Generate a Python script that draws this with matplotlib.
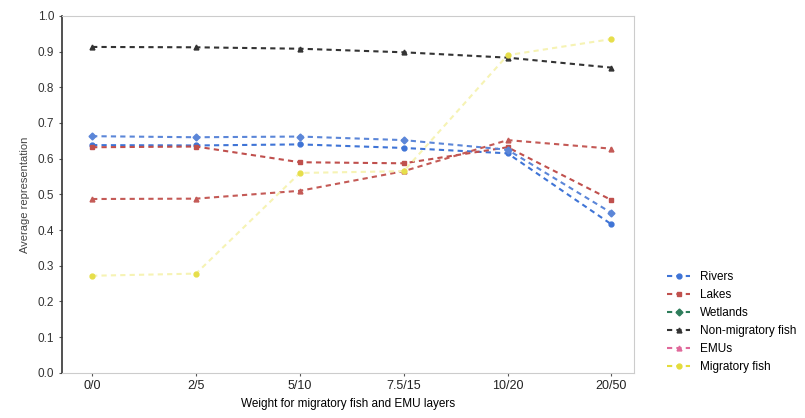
# average representation vs weight for migratory fish / EMU layers

import matplotlib.pyplot as plt
import numpy as np

plt.rcParams["font.family"] = ["Liberation Sans", "DejaVu Sans"]

weights = ["0/0", "2/5", "5/10", "7.5/15", "10/20", "20/50"]

rivers = [0.638, 0.637, 0.640, 0.630, 0.615, 0.416]
lakes = [0.632, 0.634, 0.590, 0.587, 0.632, 0.484]
wetlands = [0.663, 0.660, 0.662, 0.652, 0.625, 0.448]
non_migratory = [0.913, 0.912, 0.908, 0.898, 0.883, 0.855]
emus = [0.487, 0.488, 0.510, 0.565, 0.652, 0.628]
migratory = [0.272, 0.278, 0.560, 0.565, 0.890, 0.935]

# (label, values, line colour, legend colour, marker)
series = [
    ("Rivers", rivers, "#3f74d6", "#3f74d6", "o"),
    ("Lakes", lakes, "#c0504d", "#c0504d", "s"),
    ("Wetlands", wetlands, "#5b86d8", "#2e7d5b", "D"),
    ("Non-migratory fish", non_migratory, "#333333", "#333333", "^"),
    ("EMUs", emus, "#c45a56", "#e0689a", "^"),
    ("Migratory fish", migratory, "#f6f3b4", "#e4dc3c", "o"),
]

x = np.arange(len(weights))

fig = plt.figure(figsize=(8.05, 4.18), dpi=100)
ax = fig.add_axes([0.077, 0.108, 0.711, 0.854])

for label, vals, col, _, mk in series:
    mcol = "#e6de4a" if label == "Migratory fish" else col
    ax.plot(x, vals, linestyle="--", color=col, linewidth=1.5, marker=mk,
            markersize=3.5, markerfacecolor=mcol, markeredgecolor=mcol,
            label=label, dashes=(2.5, 2))

ax.set_xlim(-0.29, 5.22)
ax.set_ylim(0, 1.0)
ax.set_xticks(x)
ax.set_xticklabels(weights, fontsize=9, color="#222222")
ax.set_yticks(np.arange(0, 1.01, 0.1))
ax.set_yticklabels([f"{v:.1f}" for v in np.arange(0, 1.01, 0.1)],
                   fontsize=8.5, color="#333333")
ax.tick_params(axis="both", length=2, color="#555555")
ax.set_xlabel("Weight for migratory fish and EMU layers", fontsize=8.5, labelpad=4)
ax.set_ylabel("Average representation", fontsize=8, color="#444444", labelpad=6)

ax.spines["left"].set_color("#333333")
ax.spines["left"].set_linewidth(1.2)
for side in ["top", "right", "bottom"]:
    ax.spines[side].set_color("#cccccc")
    ax.spines[side].set_linewidth(0.8)

leg = fig.legend(loc="lower left", bbox_to_anchor=(0.815, 0.083), frameon=False,
                 fontsize=8.5, handlelength=2.0, labelspacing=0.5)
for h, (_, _, _, lcol, _) in zip(leg.legend_handles, series):
    h.set_color(lcol)
    h.set_markerfacecolor(lcol)
    h.set_markeredgecolor(lcol)

fig.savefig("out.png", dpi=100)
